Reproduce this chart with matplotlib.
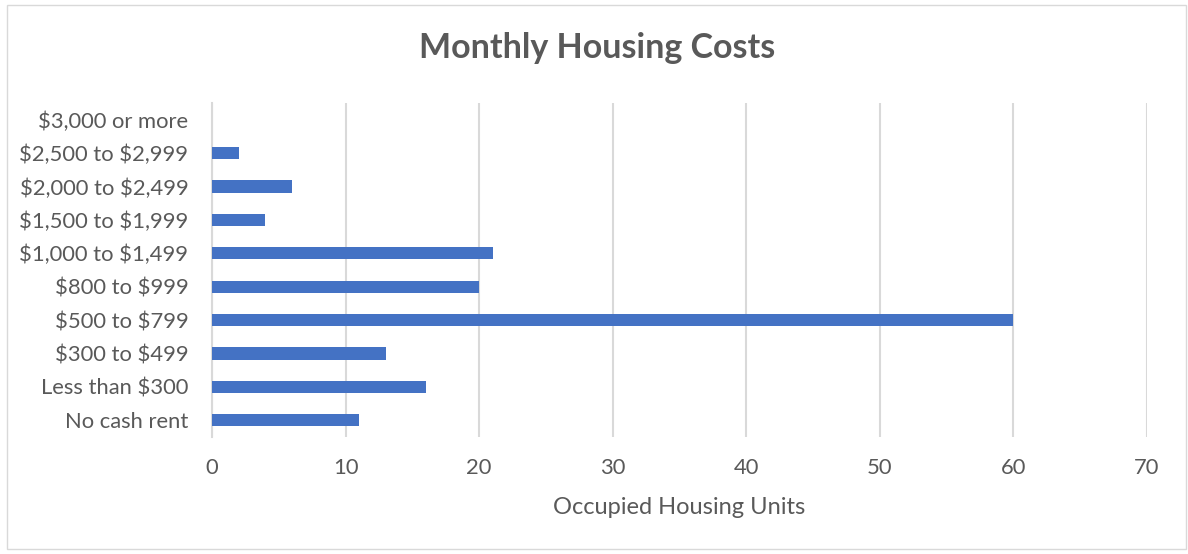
import matplotlib
matplotlib.use("Agg")
import matplotlib.pyplot as plt
from matplotlib.patches import Rectangle

categories = ["No cash rent", "Less than $300", "$300 to $499", "$500 to $799",
              "$800 to $999", "$1,000 to $1,499", "$1,500 to $1,999",
              "$2,000 to $2,499", "$2,500 to $2,999", "$3,000 or more"]
values = [11, 16, 13, 60, 20, 21, 4, 6, 2, 0]
xticks = [0, 10, 20, 30, 40, 50, 60, 70]

plt.rcParams['font.family'] = ['Lato', 'DejaVu Sans']
plt.rcParams['text.parse_math'] = False
gray = "#595959"

fig = plt.figure(figsize=(11.88, 5.54), dpi=100)
fig.patches.append(Rectangle((7/1188, 5/554), 1179/1188, 544/554, transform=fig.transFigure,
                             fill=False, edgecolor="#d9d9d9", linewidth=1))
ax = fig.add_axes([212/1188, 1 - 437/554, 935/1188, 334/554])

ax.barh(range(len(categories)), values, height=0.36, color="#4472C4", zorder=3)
ax.set_ylim(-0.5, len(categories) - 0.5)
ax.set_xlim(0, 70)
ax.set_xticks(xticks)
ax.set_yticks(range(len(categories)))
ax.set_yticklabels(categories)
ax.grid(axis='x', color="#d9d9d9", linewidth=1.5, zorder=0)
for s in ['top', 'right', 'bottom']:
    ax.spines[s].set_visible(False)
ax.spines['left'].set_color("#d9d9d9")
ax.spines['left'].set_linewidth(1.5)
ax.tick_params(axis='both', length=0, labelsize=15.8, labelcolor=gray)
ax.tick_params(axis='x', pad=15)
ax.tick_params(axis='y', pad=17)
ax.set_xlabel("Occupied Housing Units", fontsize=17, color=gray, labelpad=14)
fig.text(597/1188, 1 - 48/554, "Monthly Housing Costs", ha='center', va='center',
         fontsize=24.5, fontweight='bold', color=gray)

fig.savefig("out.png", dpi=100)
